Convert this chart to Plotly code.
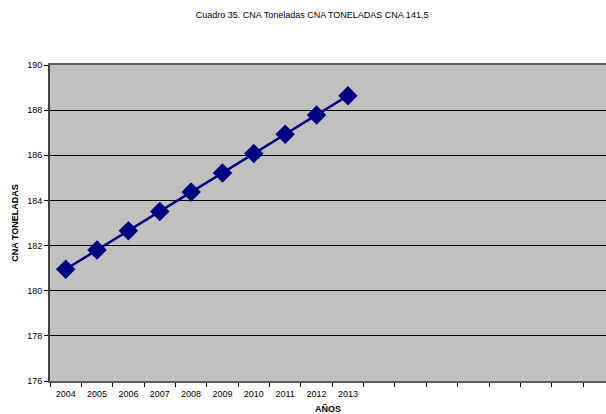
import plotly.graph_objects as go

years = ["2004", "2005", "2006", "2007", "2008", "2009", "2010", "2011", "2012", "2013"]
values = [180.95, 181.80, 182.66, 183.51, 184.37, 185.22, 186.08, 186.93, 187.79, 188.64]
extra_categories = [" " * (i + 1) for i in range(8)]
all_categories = years + extra_categories

font_family = "Liberation Sans, Arial, sans-serif"

fig = go.Figure()
fig.add_trace(go.Scatter(
    x=years, y=values, mode="lines+markers",
    line=dict(color="#000080", width=2.5),
    marker=dict(symbol="diamond", size=15, color="#000080"),
    showlegend=False,
))

fig.update_layout(
    width=606, height=414,
    margin=dict(l=50, r=0, t=65, b=33, autoexpand=False),
    paper_bgcolor="white",
    plot_bgcolor="#C0C0C0",
    font=dict(family=font_family, size=9, color="black"),
    title=dict(text="Cuadro 35. CNA Toneladas CNA TONELADAS CNA 141,5",
               x=0.515, xanchor="center", y=0.963, yanchor="middle",
               font=dict(size=9, color="black")),
    xaxis=dict(
        type="category", categoryorder="array", categoryarray=all_categories,
        range=[-0.5, 17.23], tickson="boundaries", ticks="outside", ticklen=4,
        tickcolor="black", showgrid=False, zeroline=False, automargin=False,
        showline=True, linecolor="#606060", linewidth=2, mirror=True,
        tickfont=dict(size=9), ticklabelstandoff=3,
        title=dict(text="<b>AÑOS</b>", font=dict(size=9), standoff=9),
    ),
    yaxis=dict(
        range=[176, 190], dtick=2, ticks="outside", ticklen=4, tickcolor="black",
        showgrid=True, gridcolor="black", gridwidth=1, zeroline=False,
        automargin=False,
        showline=True, linecolor="#404040", linewidth=2, mirror=False,
        tickfont=dict(size=9),
        title=dict(text="<b>CNA TONELADAS</b>", font=dict(size=9), standoff=7),
    ),
)

fig.write_html("out.html", config={"displayModeBar": False},
               post_script="document.body.style.margin='0';document.body.style.overflow='hidden';")
